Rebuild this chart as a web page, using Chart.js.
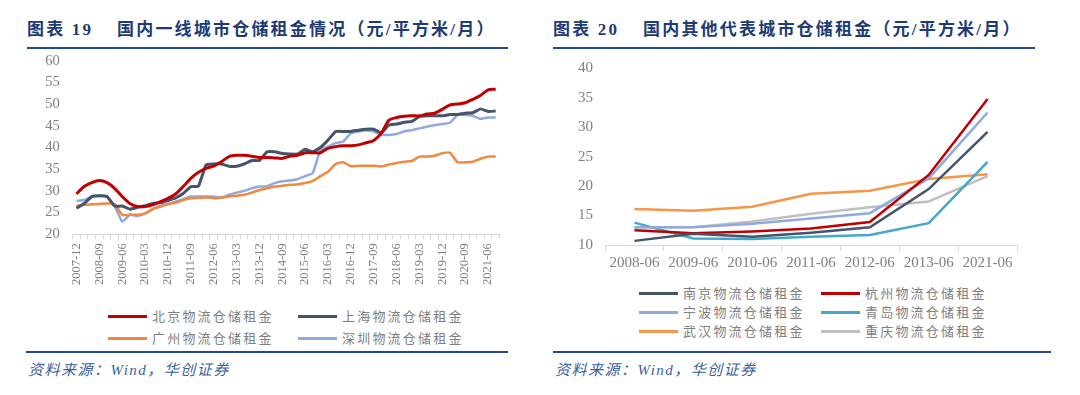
<!DOCTYPE html>
<html>
<head>
<meta charset="utf-8">
<script src="https://cdn.jsdelivr.net/npm/chart.js@4.4.1/dist/chart.umd.min.js"></script>
<style>
  body { margin: 0; background: #fff; width: 1080px; height: 395px; position: relative; overflow: hidden; }
  .title { position: absolute; top: 20px; font-family: "Liberation Serif", "Noto Sans CJK SC"; font-weight: bold; font-size: 17px; letter-spacing: 2.2px; color: #203b73; white-space: nowrap; line-height: 20px; }
  .rule { position: absolute; height: 2px; background: #1f4a8a; }
  .src { position: absolute; top: 360px; font-family: "Liberation Serif", "Noto Sans CJK SC"; font-style: italic; font-size: 15px; letter-spacing: 1.5px; color: #3a5f9e; white-space: nowrap; line-height: 20px; }
  .box { position: absolute; }
  .lg { position: absolute; height: 20px; white-space: nowrap; font-family: "Noto Sans CJK SC"; font-size: 13px; letter-spacing: 2.2px; color: #808080; line-height: 20px; }
  .lg span.ln { position: absolute; left: 0; top: 8.5px; width: 39px; height: 3px; }
  .lg span.tx { position: absolute; left: 44px; top: 0; }
</style>
</head>
<body>

<div class="title" style="left:27px">图表 19</div>
<div class="title" style="left:117px">国内一线城市仓储租金情况（元/平方米/月）</div>
<div class="rule" style="left:27px;width:481px;top:47px"></div>

<div class="title" style="left:553px">图表 20</div>
<div class="title" style="left:643px">国内其他代表城市仓储租金（元/平方米/月）</div>
<div class="rule" style="left:553px;width:482px;top:47px"></div>

<div class="box" style="left:20px;top:50px;width:500px;height:250px"><canvas id="Cnvs1"></canvas></div>
<div class="box" style="left:560px;top:55px;width:480px;height:220px"><canvas id="Cnvs2"></canvas></div>

<div id="legend1"></div>
<div id="legend2"></div>

<div class="rule" style="left:26px;width:482px;top:351px"></div>
<div class="rule" style="left:553px;width:498px;top:351px"></div>
<div class="src" style="left:28px">资料来源：Wind，华创证券</div>
<div class="src" style="left:555px">资料来源：Wind，华创证券</div>

<script>
// 图表19 季度数据
var quarters = ['2007-12',
  '2008-03','2008-06','2008-09','2008-12','2009-03','2009-06','2009-09','2009-12',
  '2010-03','2010-06','2010-09','2010-12','2011-03','2011-06','2011-09','2011-12',
  '2012-03','2012-06','2012-09','2012-12','2013-03','2013-06','2013-09','2013-12',
  '2014-03','2014-06','2014-09','2014-12','2015-03','2015-06','2015-09','2015-12',
  '2016-03','2016-06','2016-09','2016-12','2017-03','2017-06','2017-09','2017-12',
  '2018-03','2018-06','2018-09','2018-12','2019-03','2019-06','2019-09','2019-12',
  '2020-03','2020-06','2020-09','2020-12','2021-03','2021-06','2021-09'];

var beijing = [29.3,31.0,31.9,32.4,31.9,30.6,28.7,27.1,26.4,26.4,
  26.8,27.5,28.3,29.3,31.0,32.9,34.3,35.2,35.7,36.7,
  37.9,38.2,38.2,38.0,37.7,37.7,37.6,37.5,38.0,38.2,
  38.8,38.8,38.8,39.8,40.2,40.4,40.4,40.6,41.1,41.6,
  43.3,46.3,46.9,47.2,47.3,47.3,47.7,47.9,48.8,49.8,
  50.0,50.3,51.1,52.0,53.3,53.4];
var shanghai = [26.0,27.1,28.7,28.9,28.7,26.5,26.5,25.8,26.2,26.6,
  27.1,27.3,27.8,28.4,29.4,31.0,31.1,36.0,36.2,36.2,
  35.7,35.7,36.2,37.0,37.0,39.0,39.0,38.6,38.5,38.5,
  39.6,39.0,40.0,41.7,43.7,43.7,43.7,44.0,44.2,44.2,
  43.4,45.2,45.4,45.8,46.0,47.1,47.3,47.3,47.3,47.6,
  47.6,47.9,48.0,48.9,48.3,48.4];
var guangzhou = [26.5,26.8,26.9,27.0,27.1,27.0,24.5,24.5,24.5,24.8,
  25.8,26.4,26.9,27.3,27.9,28.3,28.4,28.5,28.3,28.5,
  28.7,28.9,29.1,29.6,30.2,30.6,31.0,31.2,31.4,31.5,
  31.8,32.3,33.4,34.4,36.2,36.6,35.7,35.8,35.8,35.8,
  35.6,36.1,36.4,36.7,36.9,37.9,37.9,38.1,38.7,38.8,
  36.6,36.6,36.7,37.4,37.9,37.9];
var shenzhen = [27.7,27.9,28.7,28.9,28.7,26.5,22.9,24.5,24.2,24.8,
  25.8,26.5,27.0,27.5,28.1,28.7,28.7,28.7,28.7,28.4,
  29.1,29.6,30.0,30.6,31.0,31.1,31.8,32.2,32.4,32.7,
  33.4,34.1,39.4,40.2,41.0,41.4,43.3,43.7,43.9,43.7,
  42.9,42.9,43.1,43.7,44.0,44.4,44.8,45.2,45.4,45.7,
  47.5,47.5,47.3,46.6,46.9,46.9];

// 图表20 年度数据
var years = ['2008-06','2009-06','2010-06','2011-06','2012-06','2013-06','2021-06'];
var nanjing   = [10.7,11.9,11.4,12.1,13.0,19.5,29.2];
var hangzhou  = [12.5,12.0,12.3,12.8,13.9,21.9,34.8];
var ningbo    = [13.0,13.0,13.6,14.5,15.4,21.3,32.5];
var qingdao   = [13.8,11.1,11.0,11.4,11.7,13.7,24.1];
var wuhan     = [16.1,15.8,16.5,18.7,19.2,21.2,22.0];
var chongqing = [13.0,13.0,14.0,15.3,16.4,17.4,21.7];

var tickColor = '#7f7f7f';
var axisColor = '#d9d9d9';

function line(label, data, color, width, tension) {
  return {
    label: label, data: data, borderColor: color, backgroundColor: color,
    borderWidth: width, pointRadius: 0, pointHoverRadius: 0, fill: false, tension: tension
  };
}

// html legend, two columns
function makeLegend(id, datasets, rowsY, colsX) {
  var html = '';
  datasets.forEach(function(ds, i) {
    var r = Math.floor(i / 2), c = i % 2;
    html += '<div class="lg" style="left:' + colsX[c] + 'px;top:' + (rowsY[r] - 10) + 'px">' +
      '<span class="ln" style="background:' + ds.borderColor + '"></span>' +
      '<span class="tx">' + ds.label + '</span></div>';
  });
  document.getElementById(id).innerHTML = html;
}

Chart.defaults.animation = false;
Chart.defaults.maintainAspectRatio = false;
Chart.defaults.responsive = true;

var ds1 = [
  line('北京物流仓储租金', beijing, '#c00000', 3, 0.25),
  line('上海物流仓储租金', shanghai, '#44546a', 3, 0.1),
  line('广州物流仓储租金', guangzhou, '#f4873b', 2.5, 0.2),
  line('深圳物流仓储租金', shenzhen, '#8faadc', 2.5, 0.1)
];

var chart1 = new Chart(document.getElementById('Cnvs1').getContext('2d'), {
  type: 'line',
  data: { labels: quarters, datasets: ds1 },
  options: {
    layout: { padding: { left: 0, right: 20.5, top: 10.7, bottom: 0 } },
    plugins: { legend: { display: false }, tooltip: { enabled: false } },
    scales: {
      x: {
        offset: true,
        grid: { display: true, drawOnChartArea: false, drawTicks: true, tickLength: 5, color: axisColor, offset: true },
        border: { display: true, color: axisColor, width: 1 },
        ticks: {
          autoSkip: false, maxRotation: 90, minRotation: 90, padding: 4,
          color: tickColor, font: { family: 'Liberation Serif', size: 12.5 },
          callback: function(v, i) { return i % 3 === 0 ? quarters[i] : ''; }
        },
        afterFit: function(s) { s.height = 65.7; }
      },
      y: {
        min: 20, max: 60,
        // invisible tick marks give the label gap without extra top padding
        grid: { display: true, drawOnChartArea: false, drawTicks: true, tickLength: 13, color: 'rgba(0,0,0,0)' },
        border: { display: false },
        ticks: { stepSize: 5, autoSkip: false, padding: 0, color: tickColor, font: { family: 'Liberation Serif', size: 14.5 } },
        afterFit: function(s) { s.width = 52.7; }
      }
    }
  }
});

var ds2 = [
  line('南京物流仓储租金', nanjing, '#44546a', 2.5, 0),
  line('杭州物流仓储租金', hangzhou, '#c00000', 2.5, 0),
  line('宁波物流仓储租金', ningbo, '#8faadc', 2.5, 0),
  line('青岛物流仓储租金', qingdao, '#41a9c9', 2.5, 0),
  line('武汉物流仓储租金', wuhan, '#f79646', 2.5, 0),
  line('重庆物流仓储租金', chongqing, '#bfbfbf', 2.5, 0)
];

var chart2 = new Chart(document.getElementById('Cnvs2').getContext('2d'), {
  type: 'line',
  data: { labels: years, datasets: ds2 },
  options: {
    layout: { padding: { left: 0, right: 23, top: 13.3, bottom: 0 } },
    plugins: { legend: { display: false }, tooltip: { enabled: false } },
    scales: {
      x: {
        offset: true,
        grid: { display: true, drawOnChartArea: false, drawTicks: true, tickLength: 6, color: axisColor, offset: true },
        border: { display: true, color: axisColor, width: 1 },
        ticks: { maxRotation: 0, padding: 3, color: tickColor, font: { family: 'Liberation Serif', size: 15 } },
        afterFit: function(s) { s.height = 30; }
      },
      y: {
        min: 10, max: 40,
        grid: { display: true, drawOnChartArea: false, drawTicks: true, tickLength: 12, color: 'rgba(0,0,0,0)' },
        border: { display: false },
        ticks: { stepSize: 5, autoSkip: false, padding: 0, color: tickColor, font: { family: 'Liberation Serif', size: 15 } },
        afterFit: function(s) { s.width = 45; }
      }
    }
  }
});

makeLegend('legend1', ds1, [316, 338], [108, 298]);
makeLegend('legend2', ds2, [293, 312, 331], [639, 821]);
</script>
</body>
</html>
